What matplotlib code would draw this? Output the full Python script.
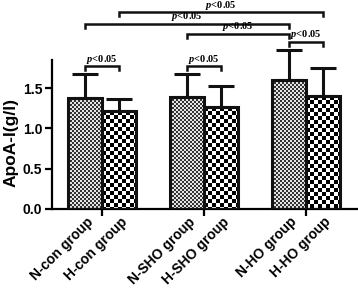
import matplotlib.pyplot as plt
import numpy as np

# Data
groups = ['con', 'SHO', 'HO']
labels = ['N-con group', 'H-con group', 'N-SHO group', 'H-SHO group', 'N-HO group', 'H-HO group']
n_means = [1.38, 1.39, 1.60]
n_err = [0.29, 0.28, 0.37]
h_means = [1.21, 1.26, 1.40]
h_err = [0.16, 0.27, 0.35]
# comparisons: (bar index a, bar index b, level)
comparisons = [(0, 1, 1.77), (2, 3, 1.77), (4, 5, 2.07), (2, 4, 2.17), (0, 4, 2.30), (1, 5, 2.44)]

plt.rcParams['mathtext.fontset'] = 'custom'
plt.rcParams['mathtext.it'] = 'Liberation Serif:italic:bold'
plt.rcParams['mathtext.rm'] = 'Liberation Serif:bold'

W, H = 358, 300
fig = plt.figure(figsize=(W/100, H/100), dpi=100)
ax = fig.add_axes([52/W, 1-209/H, (357-52)/W, 209/H])
ax.set_zorder(1)
ax.patch.set_alpha(0)

w = 0.333
centers = np.arange(1, len(groups) + 1)
xs = []
for c in centers:
    xs += [c - w/2, c + w/2]
means = [m for pair in zip(n_means, h_means) for m in pair]
errs = [e for pair in zip(n_err, h_err) for e in pair]

bars = ax.bar(xs, means, width=w, facecolor='none', edgecolor='#111111', linewidth=2.2, zorder=3)
ax.errorbar(xs, means, yerr=[np.zeros(len(errs)), errs], fmt='none', ecolor='#111111',
            elinewidth=2.2, capsize=9.5, capthick=2.2, zorder=2)
ax.set_xlim(0.51, 3.5)
ax.set_ylim(0, 209/80.6)

# checkerboard fills, drawn in figure pixels
fig.canvas.draw()
img = np.zeros((H, W, 4))
for i, b in enumerate(bars):
    cell = 2 if i % 2 == 0 else 4
    (x0, y0), (x1, y1) = ax.transData.transform([(b.get_x(), 0), (b.get_x() + b.get_width(), b.get_height())])
    c0, c1 = int(round(x0)), int(round(x1))
    r0, r1 = int(round(H - y1)), int(round(H - y0))
    rr, cc = np.mgrid[r0:r1, c0:c1]
    val = (((rr - r0) // cell + (cc - c0) // cell) % 2).astype(float)
    if cell == 2:
        val = 0.2 + 0.7 * val  # finer pattern reads greyer
    img[r0:r1, c0:c1, 0] = val
    img[r0:r1, c0:c1, 1] = val
    img[r0:r1, c0:c1, 2] = val
    img[r0:r1, c0:c1, 3] = 1
fig.figimage(img, xo=0, yo=0, origin='upper', zorder=0)

for s in ['top', 'right']:
    ax.spines[s].set_visible(False)
ax.spines['left'].set_bounds(0, 1.85)
ax.spines['left'].set_linewidth(1.6)
ax.spines['bottom'].set_linewidth(1.6)

ax.set_yticks([0, 0.5, 1.0, 1.5])
ax.set_yticklabels(['0.0', '0.5', '1.0', '1.5'], fontsize=10, fontweight='bold', family='Liberation Sans')
ax.tick_params(axis='y', length=5, width=1.6, pad=2)
ax.set_xticks(centers)
ax.set_xticklabels([])
ax.tick_params(axis='x', length=5, width=1.6)
ax.set_ylabel('ApoA-I(g/l)', fontsize=12.5, fontweight='bold', family='Liberation Sans')
ax.yaxis.set_label_coords(-0.108, 0.32)

for x, lab in zip(xs, labels):
    ax.text(x + 0.01, -0.07, lab, rotation=45, ha='right', va='top', rotation_mode='anchor',
            fontsize=10, fontweight='bold', family='Liberation Sans')

drop = 0.05
for a, b, lvl in comparisons:
    ax.plot([xs[a], xs[a], xs[b], xs[b]], [lvl - drop, lvl, lvl, lvl - drop],
            color='#111111', lw=1.8, clip_on=False, solid_joinstyle='miter')
    ax.text((xs[a] + xs[b]) / 2, lvl + 0.01, r'$p$<0.05', ha='center', va='bottom',
            fontsize=7.5, fontweight='bold', family='Liberation Serif', clip_on=False)

fig.savefig('out.png', dpi=100)
